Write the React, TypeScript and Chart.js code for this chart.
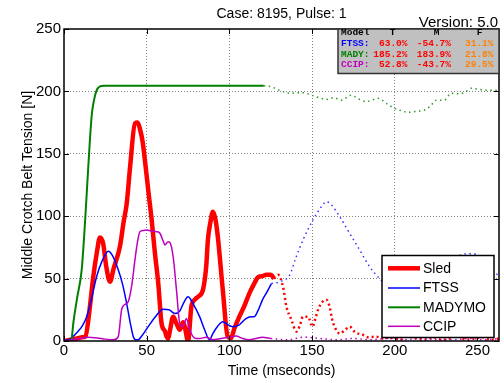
import React, { useEffect, useRef } from "react";
import { Chart, registerables } from "chart.js";
Chart.register(...registerables);

// ---------- data ----------
const xTicks = [0, 50, 100, 150, 200, 250];
const yTicks = [0, 50, 100, 150, 200, 250];

const sledT = [0, 4, 8, 11, 13, 15, 17.7, 20, 21.7, 23.7, 25.5, 27.8, 30, 33.8, 36, 37.9, 40, 42.9, 44.5, 45.9, 47.5, 48.9, 51, 53, 55, 57, 59, 61, 62, 63, 64, 66, 68, 70, 72, 73, 75, 77, 79, 81, 84, 86, 87, 88.5, 90, 91.5, 93, 96, 99, 101, 103, 106, 109, 112, 115, 117.3, 120, 122.4, 125, 127];
const sledV = [0, 1, 2, 3, 3.5, 20, 51.5, 72, 83, 78, 60, 47.5, 58, 75.6, 95, 110, 140, 174.4, 175, 170, 160, 145, 120, 97, 70, 46, 14, 8, 3.5, 2, 8, 19.5, 14, 9, 15, 11.5, 0, 27.5, 33, 35.5, 41, 60, 81, 95, 103.6, 98, 83.6, 41, 3.5, 2.4, 10, 19.5, 28, 38, 46, 51, 52, 53, 53, 50];
const sledDotT = [127, 129.4, 132.4, 134.5, 137.5, 140.5, 142.5, 144.5, 147.5, 150.2, 152, 153.6, 156, 158.6, 160.6, 162, 163.6, 166.7, 170, 172.7, 176, 180.7, 184, 188.8, 193, 198, 203, 208, 213, 218, 223, 228, 233, 238, 243, 248, 253, 258, 263];
const sledDotV = [50, 53, 43.5, 27.5, 17, 7.5, 12, 19.5, 19.5, 11.5, 18, 25, 31, 33, 27.5, 18, 11.5, 6, 9, 11.5, 7, 5, 3, 3.5, 2, 3, 1, 4, 2, 1, 3, 1, 2, 4, 1, 2, 3, 1, 2];

const ftssT = [0, 4, 8, 11, 13.7, 16.5, 19.7, 23, 26.8, 29.5, 32.8, 35.5, 37.9, 40, 41.9, 43.5, 44.9, 47, 50.9, 55, 60, 63.5, 67, 70, 72.5, 75, 78, 82, 85, 88, 90, 93, 96, 99, 102, 106, 110, 113, 115, 117.5, 120, 123, 125.4];
const ftssV = [0, 2, 7, 12, 19.5, 33, 51.5, 64, 72, 68, 57, 45, 30, 15, 3.5, 1, 1, 4, 11.5, 19, 25.4, 25, 22, 24, 31, 35.5, 30, 19.5, 9, 1, 6, 12, 15.5, 13, 11.5, 13, 18, 19.5, 19.5, 25, 33, 40, 46];
const ftssDotT = [125.4, 130.4, 136.5, 140, 144.5, 150.5, 155.6, 158.6, 161.7, 166.7, 172.7, 178.7, 184.8, 190.8, 197, 205, 215, 225, 235, 240, 247, 253, 258, 263];
const ftssDotV = [46, 47.5, 53, 66, 81, 97, 107.6, 111.6, 109, 99.6, 86.3, 73, 59.5, 50, 42, 36, 38, 50, 64, 69, 70, 66, 58, 52];

const madyT = [0, 3, 4.6, 5.6, 8, 10.7, 12.7, 14.7, 16.7, 18, 19.5, 21.7, 24, 60, 90, 120.8];
const madyV = [0, 0, 2, 14, 35, 57, 95, 140, 180, 192, 200, 204, 204.5, 204.5, 204.5, 204.5];
const madyDotT = [120.8, 125.4, 130, 136.5, 144.5, 149.6, 154, 159.6, 163, 167.7, 173.7, 178, 182.8, 186, 189.8, 195.8, 199.9, 204, 207.9, 213, 219, 222, 225, 230, 234, 239, 243, 246, 252, 256, 261, 263];
const madyDotV = [204.5, 203.7, 201, 198.5, 199, 197, 195, 193.6, 195, 193, 197, 194, 191.8, 193, 194.5, 189.6, 186.4, 184.5, 183.2, 184, 185.6, 189, 193, 193, 198.5, 198, 199.8, 202.5, 201.5, 201, 201, 201];

const ccipT = [0, 5, 10, 14, 20, 25, 30, 32.8, 34.8, 36.5, 38.8, 41, 42.9, 44.5, 45.9, 48, 49.9, 53, 56, 58, 60, 61, 63, 64, 66, 68, 70, 72, 74, 76, 78, 80, 82, 86, 90, 95, 100, 104, 108, 112, 116, 120, 125];
const ccipV = [0, 1, 2, 3, 2.5, 1.5, 1, 3.5, 25, 29, 31.5, 45, 65, 80, 87.6, 88.5, 89, 88, 87.6, 86.3, 80, 77, 79.6, 79, 67.5, 41, 14, 11.5, 18, 9, 3.5, 2, 2, 3, 1, 2, 3, 4, 2, 1, 2, 3, 2];
const ccipDotT = [125, 135, 145, 155, 165, 175, 185, 195, 205, 215, 225, 235, 245, 255, 263];
const ccipDotV = [2, 1, 3, 2, 1, 2, 1, 2, 1, 2, 1, 1, 2, 1, 2];

const legendLabels = ["Sled", "FTSS", "MADYMO", "CCIP"];
const seriesColors = ["#ff0000", "#0000ff", "#008000", "#bf00bf"];
const dotColors = ["#ff0000", "#3333ff", "#2e9a2e", "#bf00bf"];

const tableHeader = ["Model", "T", "M", "F"];
const tableModels = ["FTSS:", "MADY:", "CCIP:"];
const tableT = ["63.0%", "185.2%", "52.8%"];
const tableM = ["-54.7%", "183.9%", "-43.7%"];
const tableF = ["31.1%", "21.8%", "29.5%"];

const titleText = "Case: 8195, Pulse: 1";
const versionText = "Version: 5.0";
const xTitle = "Time (mseconds)";
const yTitle = "Middle Crotch Belt Tension [N]";

const FONT = "'Liberation Sans', Arial, Helvetica, sans-serif";
const MONO = "'Liberation Mono', 'Courier New', monospace";

const zip = (t: number[], v: number[]) => t.map((x, i) => ({ x, y: v[i] }));

const overlayPlugin = {
  id: "overlay",
  afterDraw(chart: any) {
    const { ctx, chartArea: a, scales } = chart;
    const xs = scales.x;
    const ys = scales.y;
    ctx.save();

    // axes box
    ctx.strokeStyle = "#000";
    ctx.lineWidth = 1.5;
    ctx.strokeRect(a.left, a.top, a.right - a.left, a.bottom - a.top);
    // inward ticks
    ctx.lineWidth = 1;
    const tl = 5;
    xTicks.forEach((v) => {
      const px = Math.round(xs.getPixelForValue(v)) + 0.5;
      ctx.beginPath();
      ctx.moveTo(px, a.bottom);
      ctx.lineTo(px, a.bottom - tl);
      ctx.moveTo(px, a.top);
      ctx.lineTo(px, a.top + tl);
      ctx.stroke();
    });
    yTicks.forEach((v) => {
      const py = Math.round(ys.getPixelForValue(v)) + 0.5;
      ctx.beginPath();
      ctx.moveTo(a.left, py);
      ctx.lineTo(a.left + tl, py);
      ctx.moveTo(a.right, py);
      ctx.lineTo(a.right - tl, py);
      ctx.stroke();
    });

    // stats table
    const bx = 338, by = a.top, bw = a.right - 338, bh = 73.5 - a.top;
    ctx.fillStyle = "#c0c0c0";
    ctx.fillRect(bx, by, bw, bh);
    ctx.strokeStyle = "#333";
    ctx.lineWidth = 1.5;
    ctx.strokeRect(bx, by, bw, bh);
    ctx.save();
    ctx.beginPath();
    ctx.rect(bx, by, bw, bh);
    ctx.clip();
    ctx.font = `bold 9.5px ${MONO}`;
    ctx.textBaseline = "alphabetic";
    ctx.fillStyle = "#000";
    ctx.textAlign = "left";
    ctx.fillText(tableHeader[0], 341, 35);
    ctx.textAlign = "center";
    ctx.fillText(tableHeader[1], 392.5, 35);
    ctx.fillText(tableHeader[2], 436.5, 35);
    ctx.fillText(tableHeader[3], 479.5, 35);
    const rowY = [46, 56.6, 67.2];
    const labelCols = ["#0000ff", "#008000", "#bf00bf"];
    tableModels.forEach((m, i) => {
      ctx.textAlign = "left";
      ctx.fillStyle = labelCols[i];
      ctx.fillText(m, 341, rowY[i]);
      ctx.textAlign = "right";
      ctx.fillStyle = "#ff0000";
      ctx.fillText(tableT[i], 407.5, rowY[i]);
      ctx.fillText(tableM[i], 451, rowY[i]);
      ctx.fillStyle = "#ff8000";
      ctx.fillText(tableF[i], 493.5, rowY[i]);
    });
    ctx.restore();

    // legend
    const lx = 382, ly = 255.5, lw = 112, lh = 82;
    ctx.fillStyle = "#fff";
    ctx.fillRect(lx, ly, lw, lh);
    ctx.strokeStyle = "#000";
    ctx.lineWidth = 1.5;
    ctx.strokeRect(lx, ly, lw, lh);
    const widths = [4.5, 1.5, 2, 1.5];
    const ly0 = [268.3, 288, 307.3, 326.3];
    ctx.font = `14px ${FONT}`;
    ctx.textAlign = "left";
    ctx.textBaseline = "middle";
    legendLabels.forEach((lab, i) => {
      ctx.strokeStyle = seriesColors[i];
      ctx.lineWidth = widths[i];
      ctx.beginPath();
      ctx.moveTo(388, ly0[i]);
      ctx.lineTo(420, ly0[i]);
      ctx.stroke();
      ctx.fillStyle = "#000";
      ctx.fillText(lab, 423, ly0[i] + 0.5);
    });

    // titles
    ctx.fillStyle = "#000";
    ctx.textAlign = "center";
    ctx.textBaseline = "middle";
    ctx.font = `14px ${FONT}`;
    ctx.fillText(titleText, (a.left + a.right) / 2, 14);
    ctx.textAlign = "right";
    ctx.font = `15px ${FONT}`;
    ctx.fillText(versionText, 498, 22.5);

    ctx.restore();
  },
};

export default function App() {
  const ref = useRef<HTMLCanvasElement | null>(null);
  useEffect(() => {
    if (!ref.current) return;
    const gridColor = (c: any) => {
      const v = c.tick ? c.tick.value : 0;
      return v > 0 && v < 250 ? "#808080" : "rgba(0,0,0,0)";
    };
    const chart = new Chart(ref.current, {
      type: "line",
      data: {
        datasets: [
          { label: legendLabels[0], data: zip(sledT, sledV), borderColor: seriesColors[0], borderWidth: 4.5, order: 8 },
          { label: legendLabels[0] + " (ext)", data: zip(sledDotT, sledDotV), borderColor: dotColors[0], borderWidth: 2.5, borderDash: [2, 3], order: 7 },
          { label: legendLabels[1], data: zip(ftssT, ftssV), borderColor: seriesColors[1], borderWidth: 1.5, order: 6 },
          { label: legendLabels[1] + " (ext)", data: zip(ftssDotT, ftssDotV), borderColor: dotColors[1], borderWidth: 1.5, borderDash: [1.5, 3.5], order: 5 },
          { label: legendLabels[2], data: zip(madyT, madyV), borderColor: seriesColors[2], borderWidth: 2, order: 4 },
          { label: legendLabels[2] + " (ext)", data: zip(madyDotT, madyDotV), borderColor: dotColors[2], borderWidth: 1.5, borderDash: [1.5, 3.5], order: 3 },
          { label: legendLabels[3], data: zip(ccipT, ccipV), borderColor: seriesColors[3], borderWidth: 1.5, order: 2 },
          { label: legendLabels[3] + " (ext)", data: zip(ccipDotT, ccipDotV), borderColor: dotColors[3], borderWidth: 1.5, borderDash: [1.5, 3.5], order: 1 },
        ].map((d) => ({ ...d, pointRadius: 0, fill: false, cubicInterpolationMode: "monotone" as const })),
      },
      options: {
        responsive: false,
        animation: false,
        devicePixelRatio: 1,
        layout: { padding: { top: 29, right: 5, left: 0, bottom: 0 } },
        plugins: { legend: { display: false }, tooltip: { enabled: false }, title: { display: false } },
        scales: {
          x: {
            type: "linear",
            min: 0,
            max: 263,
            afterBuildTicks: (s: any) => { s.ticks = xTicks.map((v) => ({ value: v })); },
            afterFit: (s: any) => { s.height = 42; },
            ticks: { font: { size: 15, family: FONT }, color: "#000", padding: 1, maxRotation: 0, autoSkip: false },
            grid: { color: gridColor, lineWidth: 1, drawTicks: false },
            border: { display: false, dash: [1, 2] },
            title: { display: true, text: xTitle, font: { size: 14, family: FONT }, color: "#000", padding: { top: 0, bottom: 3 } },
          },
          y: {
            type: "linear",
            min: 0,
            max: 250,
            afterBuildTicks: (s: any) => { s.ticks = yTicks.map((v) => ({ value: v })); },
            afterFit: (s: any) => { s.width = 64; },
            ticks: { font: { size: 15, family: FONT }, color: "#000", padding: 3 },
            grid: { color: gridColor, lineWidth: 1, drawTicks: false },
            border: { display: false, dash: [1, 2] },
            title: { display: true, text: yTitle, font: { size: 14, family: FONT }, color: "#000", padding: { top: 20, bottom: 0 } },
          },
        },
      },
      plugins: [overlayPlugin],
    });
    return () => chart.destroy();
  }, []);
  return (
    <div style={{ position: "absolute", left: 0, top: 0, width: 504, height: 383, background: "#fff" }}>
      <canvas ref={ref} width={504} height={383} style={{ display: "block" }} />
    </div>
  );
}
